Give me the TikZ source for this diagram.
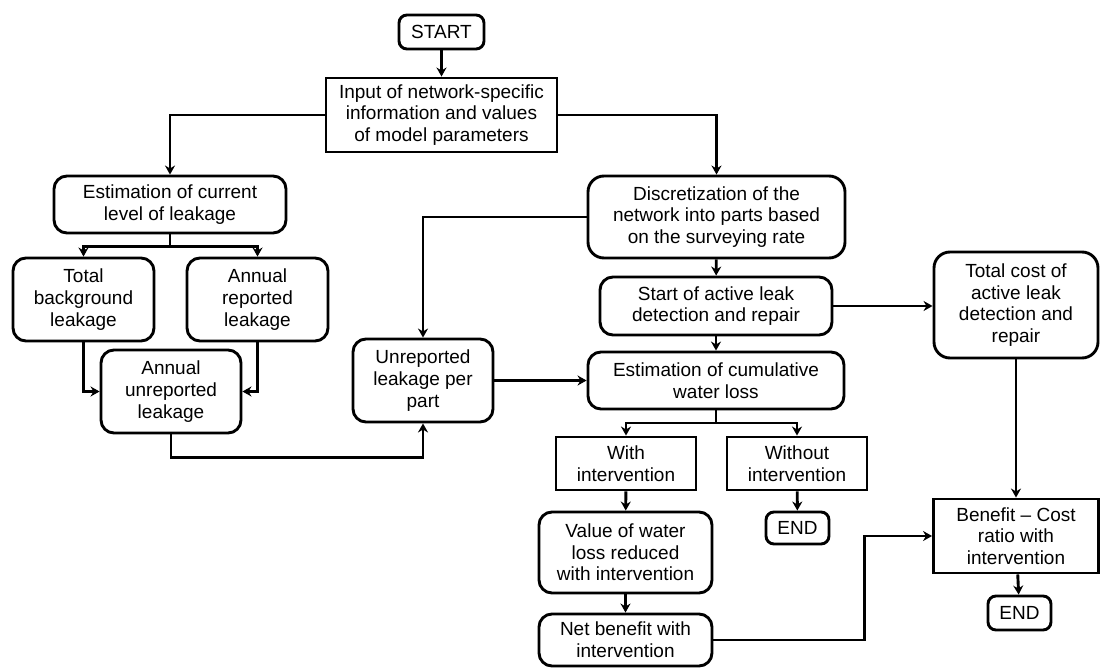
\documentclass[tikz,border=0pt]{standalone}
\usepackage{fontspec}
\setmainfont{Liberation Sans}
\usepackage{tikz}
\usetikzlibrary{arrows.meta}
\tikzset{
every picture/.style={line width=2.9pt, >={Stealth[length=9pt,width=10pt]},
                       x=1pt, y=-1pt},
%%%%%%%%%%  Node styles
block/.style={rectangle, rounded corners=13pt, draw=black, align=center,
              inner sep=0pt, font=\fontsize{19}{21.7}\selectfont},
small_block/.style={block, rounded corners=8pt},
plainbox/.style={block, sharp corners},
%%%%%%% arrows
flow/.style={->},
}

\begin{document}
\begin{tikzpicture}
\useasboundingbox (0,0) rectangle (1101,669);
%%top
\node[small_block, minimum width=85, minimum height=34] (start) at (441.5,32) {START};
\node[plainbox, minimum width=231, minimum height=74] (input) at (441.5,115)
	{Input of network-specific\\information and values\\of model parameters};
%%%%%%%%%%%%%%%%%%%%%%%
%%left branch: current leakage
\node[block, minimum width=232, minimum height=57] (estcur) at (170,204.5)
	{Estimation of current\\level of leakage};
\node[block, minimum width=141, minimum height=83] (totbg) at (83.5,299.5)
	{Total\\background\\leakage};
\node[block, minimum width=141, minimum height=83] (annrep) at (257.5,299.5)
	{Annual\\reported\\leakage};
\node[block, minimum width=140, minimum height=83] (annunrep) at (171,391.5)
	{Annual\\unreported\\leakage};
\node[block, minimum width=140, minimum height=83] (unrep) at (423,380.5)
	{Unreported\\leakage per\\part};
%%%%%%%%%%%%%%%%%%%%%%%
%%middle branch
\node[block, rounded corners=16pt, minimum width=257, minimum height=82] (discr) at (716.5,217)
	{Discretization of the\\network into parts based\\on the surveying rate};
\node[block, minimum width=232, minimum height=58] (startald) at (716,306)
	{Start of active leak\\detection and repair};
\node[block, minimum width=256, minimum height=57] (estcum) at (716,380.5)
	{Estimation of cumulative\\water loss};
\node[plainbox, minimum width=140, minimum height=53] (within) at (626,463.5)
	{With\\intervention};
\node[plainbox, minimum width=140, minimum height=53] (without) at (797,463.5)
	{Without\\intervention};
\node[small_block, minimum width=63, minimum height=32] (endmid) at (797.5,528) {END};
\node[block, minimum width=173, minimum height=81] (valred) at (625.5,552.5)
	{Value of water\\loss reduced\\with intervention};
\node[block, minimum width=173, minimum height=52] (netben) at (625.5,640)
	{Net benefit with\\intervention};
%%%%%%%%%%%%%%%%%%%%%%%
%%right branch: cost
\node[block, rounded corners=16pt, minimum width=164, minimum height=106] (totcost) at (1016,305)
	{Total cost of\\active leak\\detection and\\repair};
\node[plainbox, minimum width=165, minimum height=74] (bcr) at (1016,536)
	{Benefit -- Cost\\ratio with\\intervention};
\node[small_block, minimum width=63, minimum height=34] (endright) at (1019.5,613) {END};
%%%%%%%%%%%%%%%%%%%%%%%
%%connectors
\draw[flow] (start) -- (input);
\draw[flow] (input.west) -| (estcur.north);
\draw[flow] (input.east) -| (discr.north);
%%fork under current leakage
\draw (estcur.south) -- ++(0,12) coordinate (fork1);
\draw[flow] (fork1) -| (totbg.north);
\draw[flow] (fork1) -| (annrep.north);
\draw[flow] (totbg.south) |- (annunrep.west);
\draw[flow] (annrep.south) |- (annunrep.east);
\draw[flow] (annunrep.south) -- ++(0,23) -| (unrep.south);
\draw[flow] (discr.west) -| (unrep.north);
\draw[flow] (discr) -- (startald);
\draw[flow] (startald) -- (estcum);
\draw[flow] (unrep) -- (estcum);
\draw[flow] (startald.east) -- (startald.east -| totcost.west);
\draw[flow] (totcost) -- (bcr);
%%fork under cumulative water loss
\draw (estcum.south) -- ++(0,12.5) coordinate (fork2);
\draw[flow] (fork2) -| (within.north);
\draw[flow] (fork2) -| (without.north);
\draw[flow] (without) -- (endmid);
\draw[flow] (within) -- (valred);
\draw[flow] (valred) -- (netben);
\draw[flow] (netben.east) -- ++(151,0) |- (bcr.west);
\draw[flow] (bcr) -- (endright);
\end{tikzpicture}
\end{document}
